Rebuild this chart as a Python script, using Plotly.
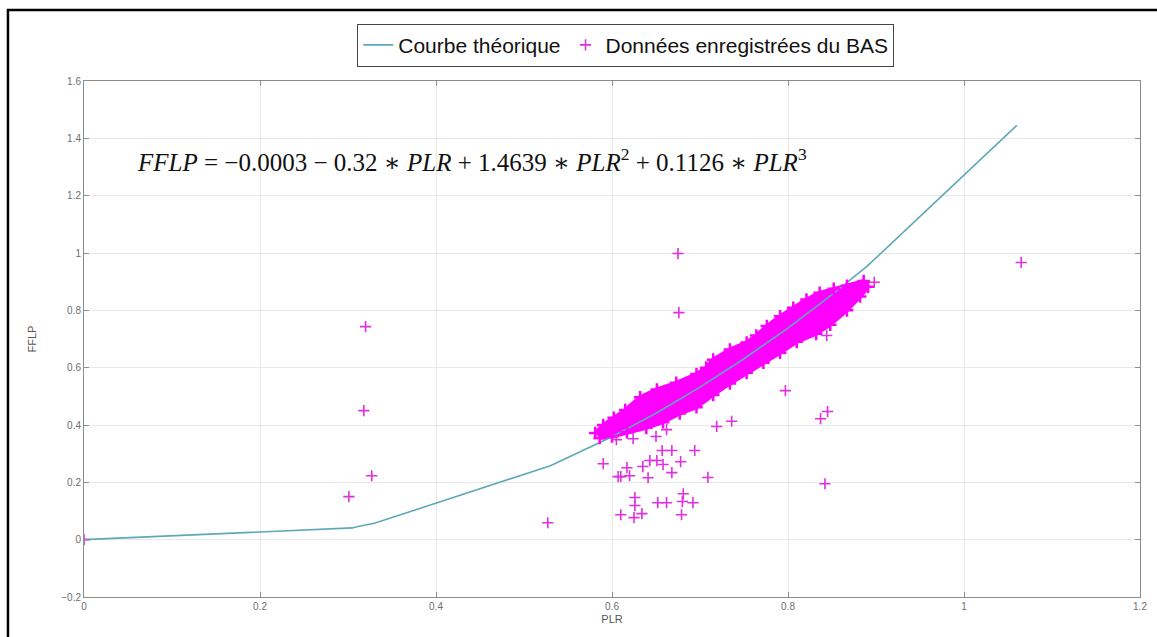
import plotly.graph_objects as go

# ---- Data ----
curve_x = [0.0, 0.305, 0.31, 0.32, 0.325, 0.33, 0.53, 0.58, 0.60, 0.65, 0.70, 0.75, 0.80, 0.85, 0.89, 1.06]
curve_y = [0.0, 0.041, 0.045, 0.050, 0.054, 0.057, 0.258, 0.329, 0.359, 0.441, 0.532, 0.631, 0.738, 0.855, 0.954, 1.445]

# isolated recorded points
out_x = [0.0, 0.320, 0.318, 0.327, 0.301, 0.527, 0.590, 0.607, 0.610, 0.617, 0.620, 0.626, 0.626,
         0.610, 0.625, 0.634, 0.635, 0.641, 0.643, 0.651, 0.658, 0.657, 0.668, 0.668, 0.652, 0.662,
         0.681, 0.680, 0.692, 0.679, 0.678, 0.694, 0.709, 0.719, 0.736, 0.650, 0.662, 0.624, 0.605,
         0.675, 0.676, 0.797, 0.845, 0.837, 0.842, 0.844, 1.065, 0.898]
out_y = [0.0, 0.743, 0.450, 0.223, 0.150, 0.059, 0.265, 0.220, 0.220, 0.251, 0.223, 0.147, 0.119,
         0.087, 0.077, 0.091, 0.255, 0.216, 0.276, 0.276, 0.262, 0.311, 0.311, 0.234, 0.129, 0.129,
         0.160, 0.133, 0.129, 0.087, 0.272, 0.311, 0.217, 0.395, 0.413, 0.360, 0.384, 0.352, 0.349,
         0.998, 0.792, 0.520, 0.447, 0.422, 0.195, 0.712, 0.967, 0.898]

# outline of the dense cloud of recorded points
band_upper_x = [0.581, 0.590, 0.602, 0.615, 0.632, 0.651, 0.673, 0.696, 0.707, 0.715, 0.734, 0.753,
                0.764, 0.776, 0.791, 0.806, 0.821, 0.836, 0.852, 0.867, 0.886]
band_upper_y = [0.372, 0.400, 0.425, 0.452, 0.497, 0.524, 0.547, 0.578, 0.600, 0.628, 0.663, 0.688,
                0.712, 0.745, 0.779, 0.809, 0.838, 0.861, 0.875, 0.886, 0.902]
band_lower_x = [0.586, 0.600, 0.617, 0.639, 0.658, 0.677, 0.696, 0.715, 0.734, 0.753, 0.772, 0.791,
                0.810, 0.832, 0.848, 0.867, 0.882, 0.891]
band_lower_y = [0.355, 0.360, 0.375, 0.390, 0.410, 0.440, 0.462, 0.505, 0.545, 0.582, 0.617, 0.652,
                0.690, 0.718, 0.750, 0.800, 0.848, 0.882]

x_ticks = [0, 0.2, 0.4, 0.6, 0.8, 1, 1.2]
y_ticks = [-0.2, 0, 0.2, 0.4, 0.6, 0.8, 1, 1.2, 1.4, 1.6]

MAG = "#ff00ff"
OUT = "#e030e0"
LINE = "#5fa8b8"
SANS = "Liberation Sans, Arial"

fig = go.Figure()

# dense cloud body
fig.add_trace(go.Scatter(
    x=band_upper_x + band_lower_x[::-1],
    y=band_upper_y + band_lower_y[::-1],
    mode="lines", fill="toself", fillcolor=MAG,
    line=dict(color=MAG, width=4), showlegend=False, hoverinfo="skip",
    legendgroup="data"))

fig.add_trace(go.Scatter(
    x=curve_x, y=curve_y, mode="lines", name="Courbe théorique",
    line=dict(color=LINE, width=1.6)))

# ragged edge of the cloud
fig.add_trace(go.Scatter(
    x=band_upper_x + band_lower_x, y=band_upper_y + band_lower_y,
    mode="markers", showlegend=False, legendgroup="data", hoverinfo="skip",
    marker=dict(symbol="cross-thin", size=9, color=MAG, line=dict(color=MAG, width=2.5))))

fig.add_trace(go.Scatter(
    x=out_x, y=out_y,
    mode="markers", name="Données enregistrées du BAS", legendgroup="data",
    marker=dict(symbol="cross-thin", size=8, color=OUT, line=dict(color=OUT, width=1.6))))

axis_common = dict(
    showline=True, linecolor="#8c8c8c", linewidth=1, mirror="ticks",
    ticks="inside", ticklen=5, tickcolor="#8c8c8c",
    showgrid=True, gridcolor="#e8e8e8", gridwidth=1, zeroline=False,
    automargin=False,
    tickfont=dict(family=SANS, size=10, color="#6e6e6e"),
)

fig.update_xaxes(range=[0, 1.2], tickvals=x_ticks, **axis_common,
                 title=dict(text="PLR", font=dict(family=SANS, size=11, color="#555"), standoff=4))
fig.update_yaxes(range=[-0.2, 1.6], tickvals=y_ticks, **axis_common,
                 title=dict(text="FFLP", font=dict(family=SANS, size=11, color="#555"), standoff=22))

fig.add_annotation(
    x=0.058, y=1.326, xref="x", yref="y", xanchor="left", yanchor="middle",
    showarrow=False,
    text="<i>FFLP</i> = −0.0003 − 0.32 ∗ <i>PLR</i> + 1.4639 ∗ <i>PLR</i><sup>2</sup> + 0.1126 ∗ <i>PLR</i><sup>3</sup>",
    font=dict(family="Liberation Serif, DejaVu Serif, serif", size=25, color="#111"))

# outer frame of the figure
fig.add_shape(type="rect", xref="paper", yref="paper",
              x0=-0.072, x1=1.05, y0=-0.2, y1=1.1376,
              line=dict(color="black", width=2.5), fillcolor="rgba(0,0,0,0)", layer="above")

fig.update_layout(
    width=1157, height=637,
    margin=dict(l=84, r=17, t=81, b=40, autoexpand=False),
    paper_bgcolor="white", plot_bgcolor="white",
    legend=dict(orientation="h", x=0.513, xanchor="center", xref="paper",
                y=0.929, yanchor="middle", yref="container",
                bordercolor="#444", borderwidth=1, bgcolor="white",
                font=dict(family="Liberation Sans Narrow, Arial Narrow, Liberation Sans, Arial",
                          size=21, color="#111"),
                traceorder="normal"),
    showlegend=True,
)

fig.write_html("out.html", config={"displayModeBar": False},
               post_script="document.body.style.margin='0';document.body.style.overflow='hidden';")
